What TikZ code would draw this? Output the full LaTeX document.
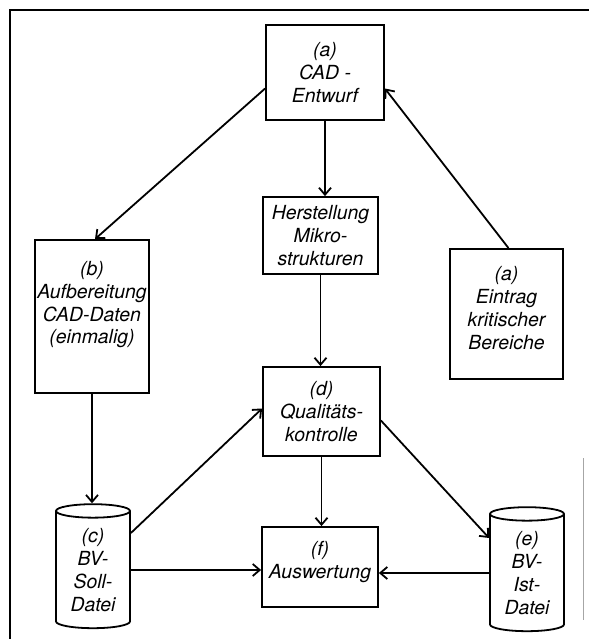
\documentclass[tikz,border=0pt]{standalone}
\usepackage{fontspec}
\setmainfont{TeX Gyre Heros}
\usetikzlibrary{arrows.meta,shapes.geometric,calc}
\begin{document}
\begin{tikzpicture}[x=1bp,y=-1bp,
  line width=1.8bp,
  txt/.style={font=\itshape\fontsize{19.5}{23}\selectfont, align=center},
  box/.style={txt, draw, rectangle, inner sep=0pt},
  store/.style={txt, draw, cylinder, shape border rotate=90, aspect=0.3,
    inner sep=0pt, minimum width=74bp, minimum height=124bp},
  flow/.style={-{Straight Barb[length=7bp,width=12bp]}},
]
\useasboundingbox (0,0) rectangle (589,639);
% frame
\draw[line width=1.4bp] (10,639) -- (10,10) -- (589,10);
\draw[line width=0.8bp, black!35] (583,458) -- (583,620);

% process boxes
\node[box, minimum width=118bp, minimum height=95bp] (cad) at (325,72.5) {(a)\\CAD -\\Entwurf};
\node[box, minimum width=115bp, minimum height=77bp] (her) at (320.5,235.5) {Herstellung\\Mikro-\\strukturen};
\node[box, minimum width=114bp, minimum height=153bp, text depth=28bp] (auf) at (92,316.5) {(b)\\Aufbereitung\\CAD-Daten\\(einmalig)};
\node[box, minimum width=113bp, minimum height=130bp, text depth=12bp] (ein) at (506.5,314) {(a)\\Eintrag\\kritischer\\Bereiche};
\node[box, minimum width=117bp, minimum height=89bp] (qk) at (321.5,411.5) {(d)\\Qualitäts-\\kontrolle};
\node[box, minimum width=116bp, minimum height=80bp, text depth=14bp] (aus) at (320,567) {(f)\\Auswertung};

% data stores
\node[store] (soll) at (93,570) {(c)\\BV-\\Soll-\\Datei};
\node[store] (ist) at (527,573) {(e)\\BV-\\Ist-\\Datei};

% connectors
\draw[flow] ([yshift=-16bp]cad.west) -- ([xshift=3bp]auf.north);
\draw[flow] (cad.south) -- (cad.south |- her.north);
\draw[flow] ([xshift=2bp]ein.north) -- ([yshift=-16bp]cad.east);
\draw[flow] (her.south) -- (her.south |- qk.north);
\draw[flow] (auf.south) -- (auf.south |- soll.north);
\draw[flow] ([yshift=37bp]soll.east) -- ([yshift=3bp]qk.west);
\draw[flow] ([yshift=-9bp]qk.east) -- ([yshift=35bp]ist.west);
\draw[flow] (qk.south) -- (qk.south |- aus.north);
\draw[flow] (soll.east) -- (soll.east -| aus.west);
\draw[flow] (ist.west) -- (ist.west -| aus.east);
\end{tikzpicture}
\end{document}
